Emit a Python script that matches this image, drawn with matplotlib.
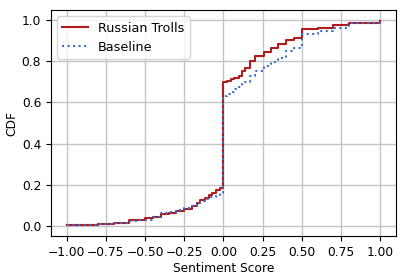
import matplotlib
matplotlib.use("Agg")
import matplotlib.pyplot as plt

# Russian Trolls: sentiment score -> CDF (step points)
troll_x = [-1.00, -0.80, -0.70, -0.60, -0.50, -0.45, -0.40, -0.35, -0.30, -0.25,
           -0.20, -0.17, -0.15, -0.12, -0.09, -0.07, -0.05, -0.02, 0.00,
           0.02, 0.045, 0.07, 0.10, 0.12, 0.14, 0.17, 0.20, 0.26, 0.30, 0.35,
           0.40, 0.45, 0.50, 0.60, 0.70, 0.80, 1.00]
troll_y = [0.005, 0.01, 0.015, 0.026, 0.04, 0.045, 0.057, 0.062, 0.07, 0.08,
           0.098, 0.11, 0.127, 0.135, 0.151, 0.16, 0.176, 0.184, 0.70,
           0.705, 0.712, 0.72, 0.73, 0.755, 0.77, 0.80, 0.826, 0.845, 0.867, 0.883,
           0.904, 0.912, 0.956, 0.964, 0.976, 0.989, 0.996]

# Baseline
base_x = [-1.00, -0.80, -0.70, -0.60, -0.55, -0.45, -0.40, -0.35, -0.30, -0.25,
          -0.20, -0.17, -0.15, -0.12, -0.09, -0.05, -0.02, 0.00,
          0.02, 0.045, 0.07, 0.10, 0.12, 0.14, 0.17, 0.20, 0.26, 0.30, 0.35,
          0.40, 0.45, 0.50, 0.60, 0.70, 0.80, 1.00]
base_y = [0.005, 0.01, 0.015, 0.025, 0.03, 0.045, 0.06, 0.068, 0.078, 0.088,
          0.098, 0.11, 0.12, 0.13, 0.14, 0.152, 0.16, 0.634,
          0.642, 0.65, 0.665, 0.676, 0.69, 0.70, 0.73, 0.753, 0.777, 0.797, 0.818,
          0.85, 0.867, 0.932, 0.948, 0.964, 0.985, 0.996]

plt.rcParams["font.size"] = 8.8

fig = plt.figure(figsize=(4.07, 2.79), dpi=100)
ax = fig.add_axes([0.125, 0.154, 0.848, 0.81])

ax.plot(troll_x, troll_y, drawstyle="steps-post", color="#b01c1c", lw=1.5,
        label="Russian Trolls")
ax.plot(base_x, base_y, drawstyle="steps-post", color="#3a6fd0", lw=1.5,
        linestyle=":", label="Baseline")

ax.set_xlim(-1.1, 1.1)
ax.set_ylim(-0.05, 1.05)
ax.set_xticks([-1.0, -0.75, -0.5, -0.25, 0.0, 0.25, 0.5, 0.75, 1.0])
ax.set_xlabel("Sentiment Score", labelpad=2)
ax.set_ylabel("CDF", labelpad=2)
ax.grid(True, color="#c4c4c4", lw=1)
ax.set_axisbelow(True)
ax.legend(loc="upper left", fontsize=9.2)

fig.savefig("out.png", dpi=100)
